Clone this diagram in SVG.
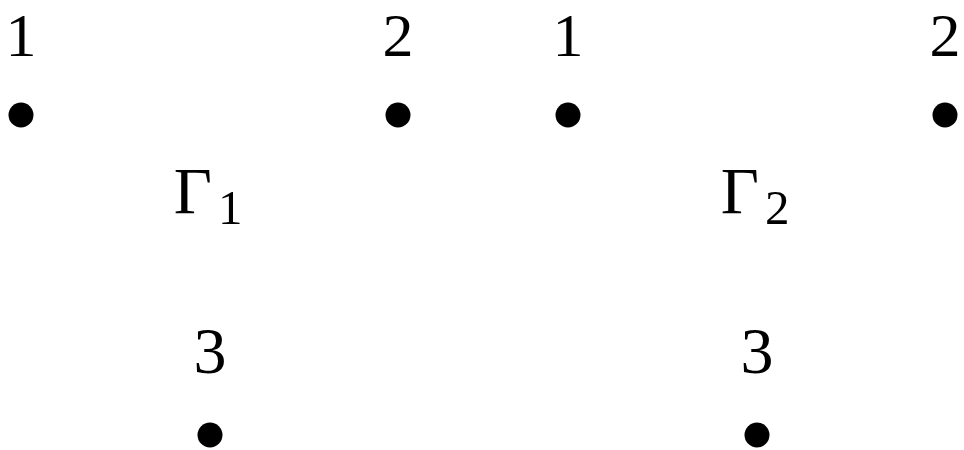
<svg xmlns="http://www.w3.org/2000/svg" width="964" height="450" viewBox="0 0 964 450">
<style>
.t{font-family:"Liberation Serif","DejaVu Serif",serif;font-size:66px;fill:#000;text-anchor:middle}
.tt{font-family:"Liberation Serif","DejaVu Serif",serif;font-size:62px;fill:#000;text-anchor:middle}
.s{font-family:"Liberation Serif","DejaVu Serif",serif;font-size:49px;fill:#000}
.g{font-family:"Liberation Serif","DejaVu Serif",serif;font-size:66px;fill:#000;text-anchor:end}
.d{fill:#000}
</style>
<rect width="964" height="450" fill="#fff"/>
<g id="graph1">
<g id="g1n1"><text class="tt" x="21" y="55.5">1</text><circle class="d" cx="21" cy="115" r="12.5"/></g>
<g id="g1n2"><text class="tt" x="398" y="55.5">2</text><circle class="d" cx="398" cy="115" r="12.5"/></g>
<g id="g1n3"><text class="t" x="210" y="373">3</text><circle class="d" cx="210" cy="435" r="12.5"/></g>
<g id="g1label"><text class="g" x="212" y="213">Γ</text><text class="s" x="218" y="224">1</text></g>
</g>
<g id="graph2">
<g id="g2n1"><text class="tt" x="568" y="55.5">1</text><circle class="d" cx="568" cy="115" r="12.5"/></g>
<g id="g2n2"><text class="tt" x="945" y="55.5">2</text><circle class="d" cx="945" cy="115" r="12.5"/></g>
<g id="g2n3"><text class="t" x="757" y="373">3</text><circle class="d" cx="757" cy="435" r="12.5"/></g>
<g id="g2label"><text class="g" x="759" y="213">Γ</text><text class="s" x="765" y="224">2</text></g>
</g>
<g id="connectors"></g>
</svg>
